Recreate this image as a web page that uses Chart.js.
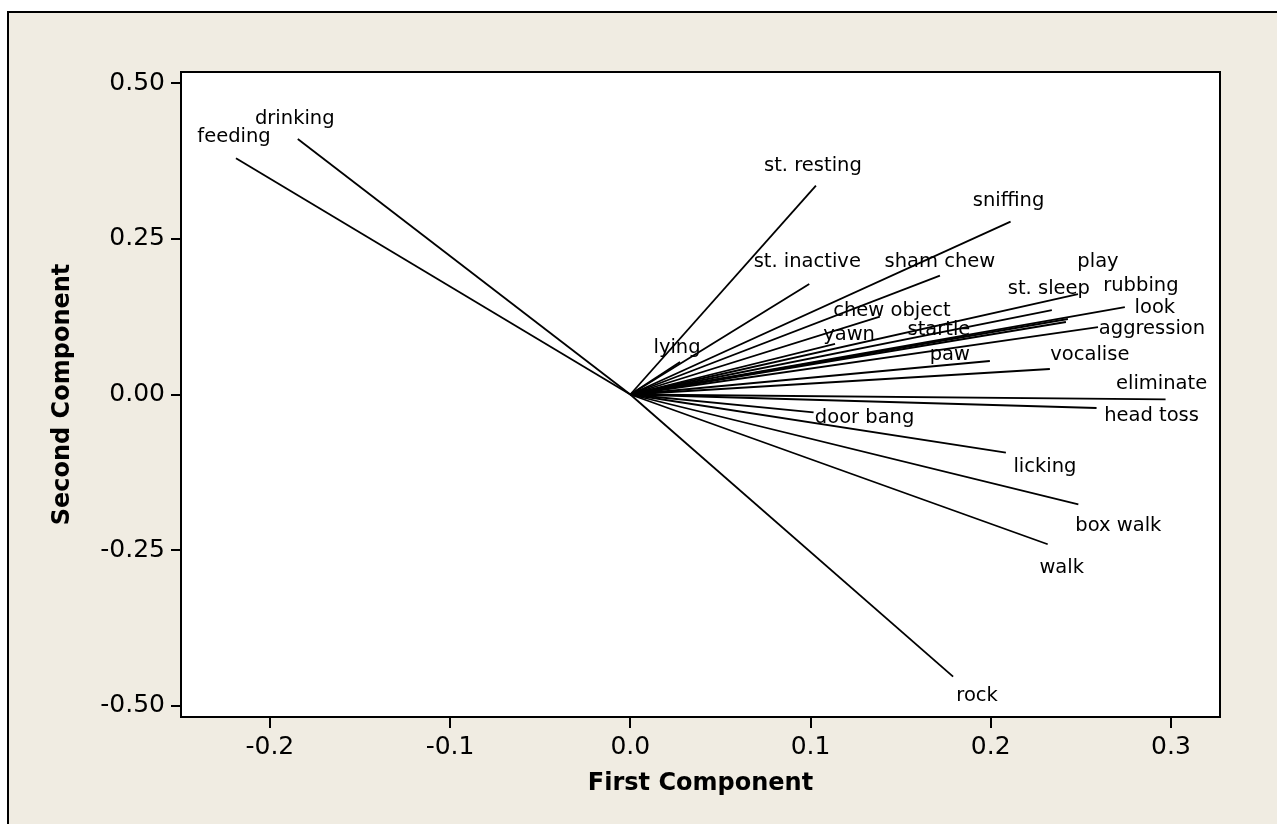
<!DOCTYPE html>
<html>
<head>
<meta charset="utf-8">
<style>
html,body{margin:0;padding:0;background:#fff;overflow:hidden}
canvas{display:block}
</style>
<script src="https://cdn.jsdelivr.net/npm/chart.js@4.4.0/dist/chart.umd.min.js"></script>
</head>
<body>
<canvas id="c" width="1277" height="824"></canvas>
<script>
// ---- data (loadings) ----
const names = ['feeding','drinking','st. resting','sniffing','st. inactive','sham chew','play','st. sleep',
  'rubbing','look','chew object','aggression','yawn','startle','lying','paw','vocalise','eliminate',
  'head toss','door bang','licking','box walk','walk','rock'];
const firstComponent = [-0.2188,-0.1845,0.1030,0.2110,0.0993,0.1718,0.2484,0.2339,
  0.2428,0.2744,0.1385,0.2595,0.1136,0.2417,0.0276,0.1995,0.2328,0.2970,
  0.2587,0.1017,0.2084,0.2486,0.2316,0.1791];
const secondComponent = [0.3791,0.4101,0.3352,0.2774,0.1774,0.1907,0.1613,0.1356,
  0.1212,0.1404,0.1249,0.1083,0.0811,0.1164,0.0522,0.0538,0.0409,-0.0077,
  -0.0217,-0.0286,-0.0934,-0.1762,-0.2404,-0.4530];
const xTickValues = [-0.2,-0.1,0,0.1,0.2,0.3];
const xTickLabels = ['-0.2','-0.1','0.0','0.1','0.2','0.3'];
const yTickValues = [-0.5,-0.25,0,0.25,0.5];
const yTickLabels = ['-0.50','-0.25','0.00','0.25','0.50'];

// ---- label placement (pixel offsets from each vector tip; style only) ----
const labelDx = [-2,-3,-3,-2,-2,0,20,-3,73,30,12,54,14,-127,-3,-40,40,-4,55,51,39,40,14,24];
const labelDy = [-21,-20,-20,-21,-22,-14,-32,-21,-33,1,-6,2,-9,8,-14,-6,-14,-15,8,6,14,22,24,19];

const FONT = 'DejaVu Sans';

const framePlugin = {
  id: 'frame',
  beforeDraw(chart) {
    const ctx = chart.ctx, a = chart.chartArea;
    ctx.save();
    ctx.fillStyle = '#ffffff';
    ctx.fillRect(0, 0, chart.width, chart.height);
    ctx.fillStyle = '#F0ECE2';
    ctx.fillRect(8, 12, chart.width, chart.height);
    ctx.strokeStyle = '#000';
    ctx.lineWidth = 2;
    ctx.beginPath();
    ctx.moveTo(8, chart.height + 4);
    ctx.lineTo(8, 12);
    ctx.lineTo(chart.width + 4, 12);
    ctx.stroke();
    ctx.fillStyle = '#ffffff';
    ctx.fillRect(a.left, a.top, a.right - a.left, a.bottom - a.top);
    ctx.restore();
  },
  afterDraw(chart) {
    const ctx = chart.ctx, a = chart.chartArea;
    ctx.save();
    ctx.strokeStyle = '#000';
    ctx.lineWidth = 2;
    ctx.strokeRect(a.left, a.top, a.right - a.left, a.bottom - a.top);
    ctx.restore();
  }
};

const labelPlugin = {
  id: 'vecLabels',
  afterDatasetsDraw(chart) {
    const ctx = chart.ctx, xs = chart.scales.x, ys = chart.scales.y;
    ctx.save();
    ctx.font = '19.5px "' + FONT + '"';
    ctx.fillStyle = '#000';
    ctx.textAlign = 'center';
    ctx.textBaseline = 'middle';
    names.forEach((n, i) => {
      const px = xs.getPixelForValue(firstComponent[i]) + labelDx[i];
      const py = ys.getPixelForValue(secondComponent[i]) + labelDy[i];
      ctx.fillText(n, px, py);
    });
    ctx.restore();
  }
};

const datasets = names.map((n, i) => ({
  label: n,
  data: [{x: 0, y: 0}, {x: firstComponent[i], y: secondComponent[i]}],
  showLine: true,
  borderColor: '#000',
  borderWidth: 1.8,
  pointRadius: 0,
  pointHoverRadius: 0,
  fill: false
}));

function tickText(values, labels) {
  return function(v) {
    const i = values.findIndex(t => Math.abs(t - v) < 1e-9);
    return i >= 0 ? labels[i] : '';
  };
}

new Chart(document.getElementById('c'), {
  type: 'scatter',
  data: { datasets },
  options: {
    responsive: false,
    animation: false,
    devicePixelRatio: 1,
    layout: { padding: { left: 0, top: 72, right: 57, bottom: 0 } },
    plugins: { legend: { display: false }, tooltip: { enabled: false } },
    scales: {
      x: {
        type: 'linear',
        min: -0.2493, max: 0.3272,
        afterBuildTicks: s => { s.ticks = xTickValues.map(v => ({value: v})); },
        afterFit: s => { s.height = 107; },
        ticks: {
          callback: tickText(xTickValues, xTickLabels),
          font: { family: FONT, size: 25 }, color: '#000',
          padding: 4, maxRotation: 0, autoSkip: false
        },
        grid: { display: true, drawOnChartArea: false, drawTicks: true, tickLength: 11,
                color: '#000', tickColor: '#000', tickWidth: 2, lineWidth: 2 },
        border: { display: false },
        title: { display: true, text: 'First Component', color: '#000',
                 font: { family: FONT, size: 24, weight: 'bold' },
                 padding: { top: 0, bottom: 25.6 } }
      },
      y: {
        type: 'linear',
        min: -0.5177, max: 0.5177,
        afterBuildTicks: s => { s.ticks = yTickValues.map(v => ({value: v})); },
        afterFit: s => { s.width = 181; },
        ticks: {
          callback: tickText(yTickValues, yTickLabels),
          font: { family: FONT, size: 25 }, color: '#000',
          padding: 6, autoSkip: false
        },
        grid: { display: true, drawOnChartArea: false, drawTicks: true, tickLength: 10,
                color: '#000', tickColor: '#000', tickWidth: 2, lineWidth: 2 },
        border: { display: false },
        title: { display: true, text: 'Second Component', color: '#000',
                 font: { family: FONT, size: 24, weight: 'bold' },
                 padding: { top: 48.6, bottom: 0 } }
      }
    }
  },
  plugins: [framePlugin, labelPlugin]
});
</script>
</body>
</html>
